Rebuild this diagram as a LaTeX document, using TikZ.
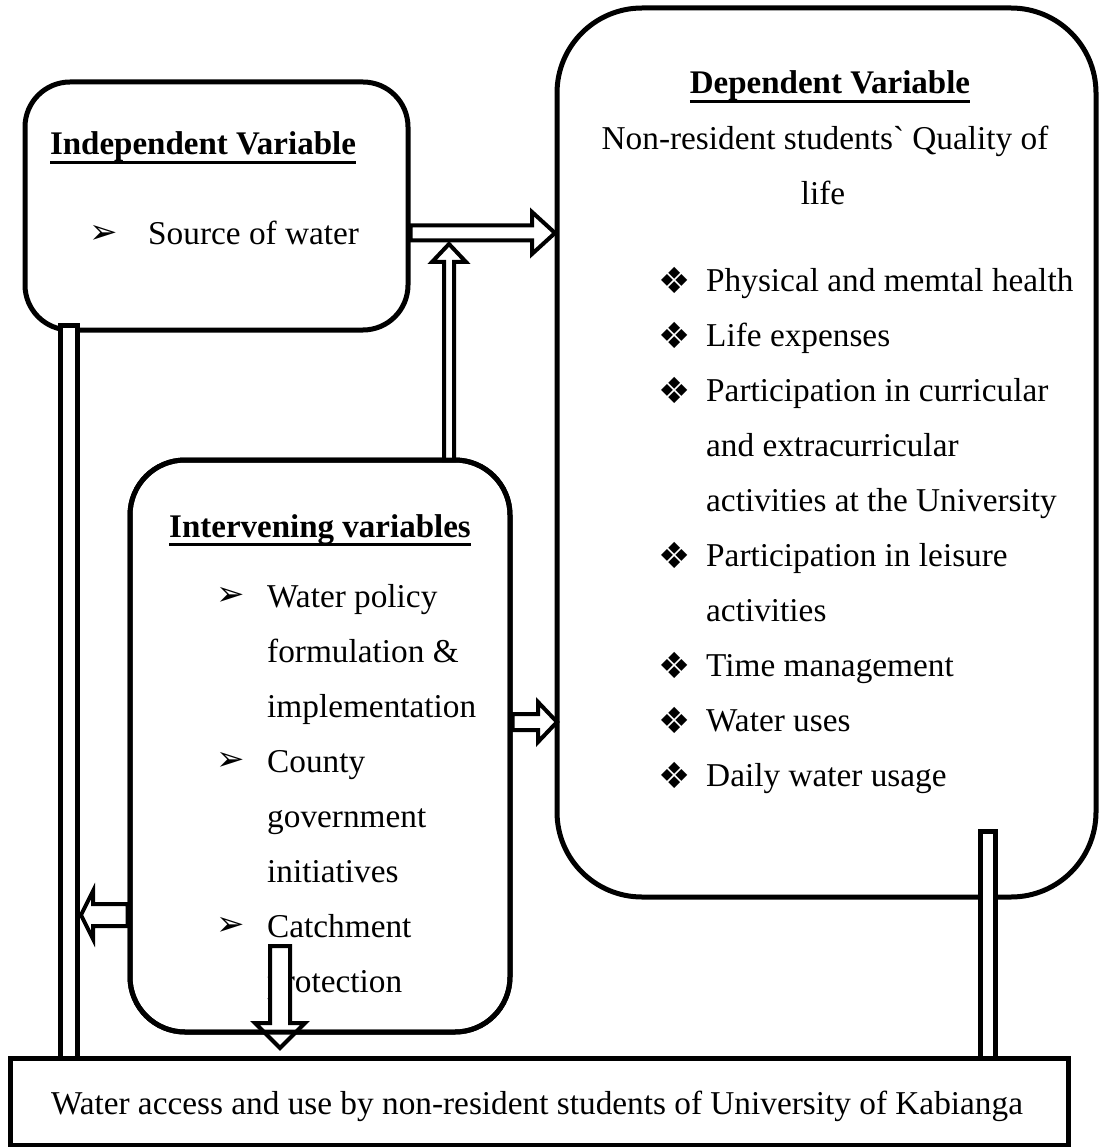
\documentclass[tikz,border=0pt]{standalone}
\usepackage{fontspec}
\setmainfont{Liberation Serif}[Ligatures=TeXOff]
\newfontfamily\dejavu{DejaVu Sans}
\newcommand\hdul[1]{\setbox0\hbox{#1}\rlap{\rule[-9pt]{\wd0}{3pt}}\box0}
\begin{document}
\begin{tikzpicture}[x=1pt,y=-1pt,
  box/.style={draw, line width=5pt, fill=white, inner sep=0pt},
  blk/.style={draw, line width=4pt, fill=white, line join=miter},
  bar/.style={draw, line width=5pt, fill=white},
  txt/.style={inner sep=0pt, anchor=base west, font=\fontsize{33.3}{38}\selectfont},
  ctxt/.style={txt, anchor=base},
  hd/.style={inner sep=0pt, anchor=base, font=\fontsize{33}{38}\selectfont\bfseries},
  arrb/.style={inner sep=0pt, anchor=center, font=\dejavu\fontsize{34}{36}\selectfont},
  diab/.style={inner sep=0pt, anchor=center, font=\dejavu\fontsize{36}{38}\selectfont}]
\useasboundingbox (0,0) rectangle (1101,1147);

% boxes
\node[box, minimum width=1058pt, minimum height=87pt] (bottom) at (539,1101.5) {};
\node[box, rounded corners=85pt, minimum width=539pt, minimum height=889pt] (dep) at (826.5,452.5) {};
\node[box, rounded corners=45pt, minimum width=383pt, minimum height=248pt] (indep) at (216.5,206) {};
\node[box, rounded corners=55pt, minimum width=380pt, minimum height=572pt] (interv) at (320,746) {};

% bottom text
\node[ctxt] (btxt) at (537,1114) {Water access and use by non-resident students of University of Kabianga};

% independent
\node[hd] (indh) at (203,155) {\hdul{Independent Variable}};
\node[arrb] (indb1) at (104,234) {➢};
\node[txt] (indt1) at (148,245) {Source of water};

% dependent
\node[hd] (deph) at (830,94) {\hdul{Dependent Variable}};
\node[ctxt] (dept1) at (825,150) {Non-resident students` Quality of};
\node[ctxt] (dept2) at (823,205) {life};
\foreach \y/\t [count=\i] in {291/Physical and memtal health, 346/Life expenses, 401/Participation in curricular, 566/Participation in leisure, 676/Time management, 731/Water uses, 786/Daily water usage}{
  \node[diab] (depb\i) at (675,\y-11) {❖};
  \node[txt] (depi\i) at (706,\y) {\t};
}
\node[txt] (depc1) at (706,456) {and extracurricular};
\node[txt] (depc2) at (706,511) {activities at the University};
\node[txt] (depc3) at (706,621) {activities};

% intervening
\node[hd] (intvh) at (320,537) {\hdul{Intervening variables}};
\node[arrb] (ib1) at (231,596) {➢};
\node[txt] (it1) at (267,607) {Water policy};
\node[txt] (it2) at (267,662) {formulation \&};
\node[txt] (it3) at (267,717) {implementation};
\node[arrb] (ib2) at (231,761) {➢};
\node[txt] (it4) at (267,772) {County};
\node[txt] (it5) at (267,827) {government};
\node[txt] (it6) at (267,882) {initiatives};
\node[arrb] (ib3) at (231,926) {➢};
\node[txt] (it7) at (267,937) {Catchment};
\node[txt] (it8) at (267,992) {protection};

% block arrows
\draw[blk] (indep.east |- 0,225.5) -- (532,225.5) -- (532,212) -- (555,233) -- (532,254) -- (532,240.5) -- (indep.east |- 0,240.5) -- cycle;
\draw[blk] (444,460) -- (444,262) -- (432,262) -- (449,244) -- (466,262) -- (454,262) -- (454,460) -- cycle;
\draw[blk] (interv.east |- 0,714) -- (538,714) -- (538,702) -- (557,722) -- (538,742) -- (538,730) -- (interv.east |- 0,730) -- cycle;
\draw[blk] (interv.west |- 0,904) -- (93,904) -- (93,891) -- (81,915) -- (93,939) -- (93,926) -- (interv.west |- 0,926) -- cycle;
\draw[blk] (270,946) -- (270,1023) -- (255,1023) -- (280,1048) -- (305,1023) -- (290,1023) -- (290,946) -- cycle;
\node[box, fill=none, rounded corners=55pt, minimum width=380pt, minimum height=572pt] (intervb) at (interv.center) {};

% bars
\draw[bar] (60.5,325.5) rectangle (77.5,1058);
\draw[bar] (980.5,831.5) rectangle (995.5,1058);
\end{tikzpicture}
\end{document}
